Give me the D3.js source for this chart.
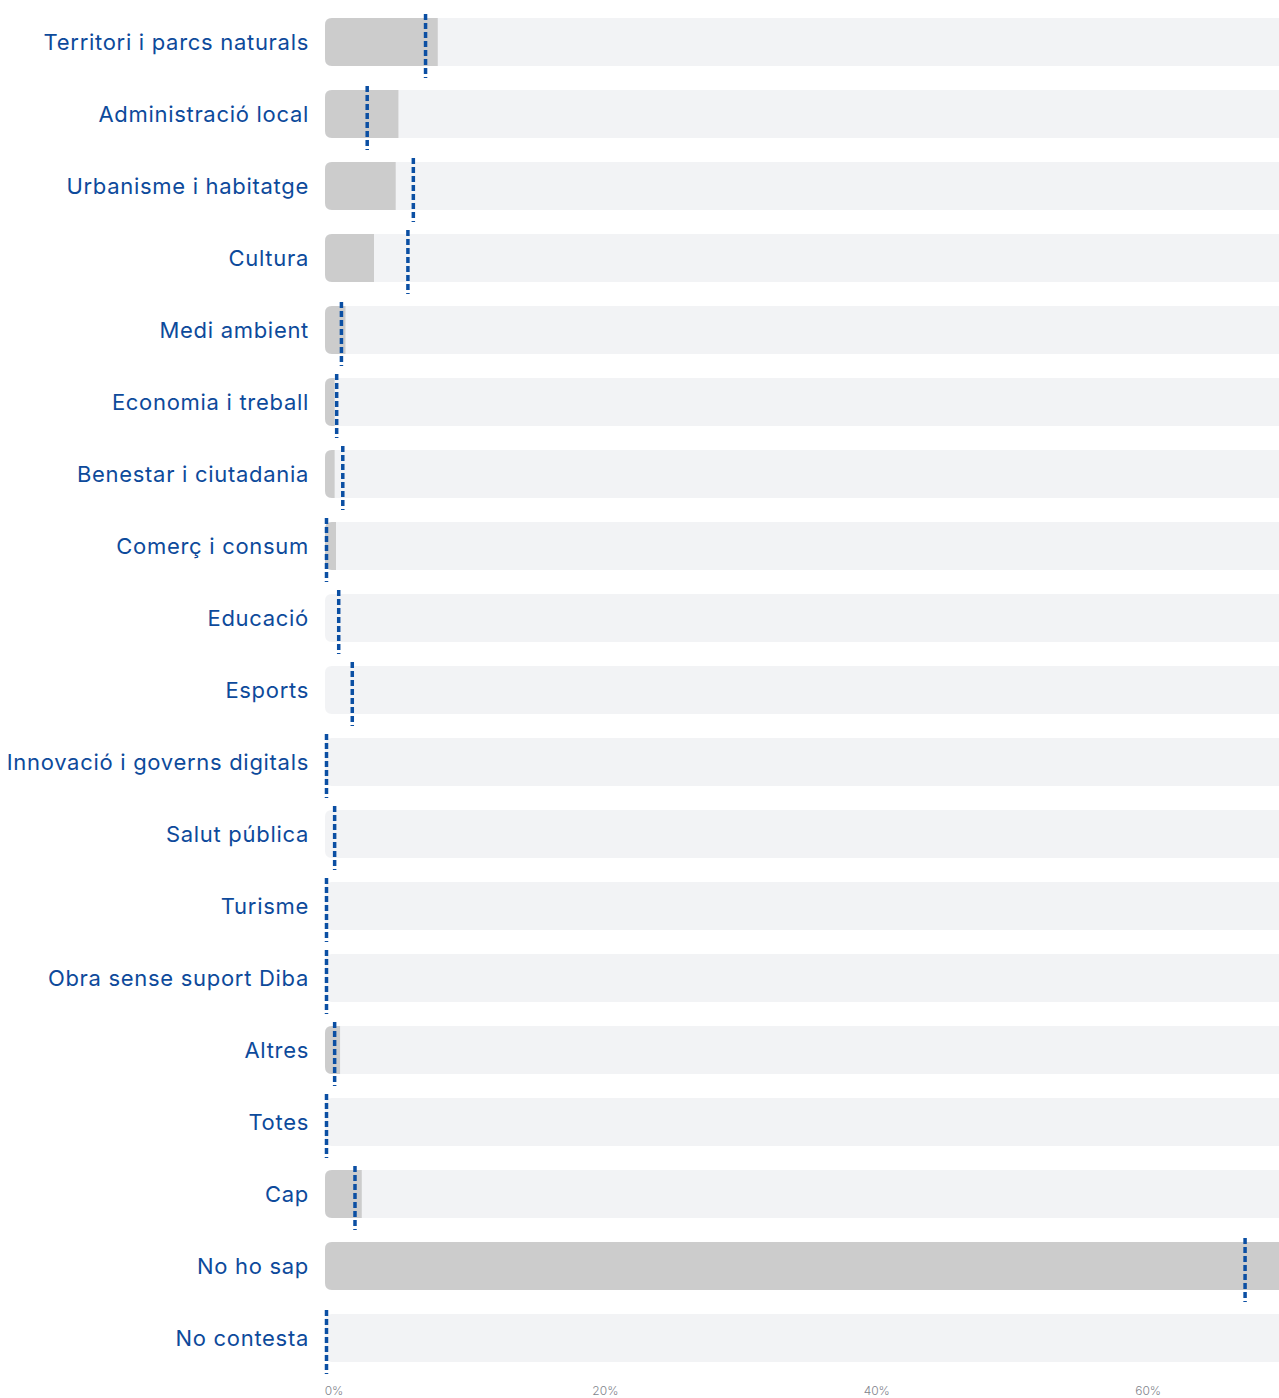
<!DOCTYPE html>
<html>
<head>
<meta charset="utf-8">
<script src="https://cdn.jsdelivr.net/npm/d3@7"></script>
<style>
  html, body { margin: 0; padding: 0; background: #ffffff; }
  svg { display: block; }
</style>
</head>
<body>
<div id="chart"></div>
<script>
const categories = [
  "Territori i parcs naturals",
  "Administració local",
  "Urbanisme i habitatge",
  "Cultura",
  "Medi ambient",
  "Economia i treball",
  "Benestar i ciutadania",
  "Comerç i consum",
  "Educació",
  "Esports",
  "Innovació i governs digitals",
  "Salut pública",
  "Turisme",
  "Obra sense suport Diba",
  "Altres",
  "Totes",
  "Cap",
  "No ho sap",
  "No contesta"
];
// grey bar values (%)
const barValues = [8.2, 5.3, 5.1, 3.5, 1.4, 0.6, 0.6, 0.7, 0, 0, 0, 0, 0, 0, 1.0, 0, 2.6, 71.5, 0];
// dotted reference marker values (%)
const markerValues = [7.3, 3.0, 6.4, 6.0, 1.1, 0.75, 1.2, 0, 0.9, 1.9, 0, 0.6, 0, 0, 0.6, 0, 2.1, 67.7, 0];
const tickValues = [0, 20, 40, 60];

const W = 1279, H = 1398;
const svg = d3.select("#chart").append("svg").attr("width", W).attr("height", H);

const x = d3.scaleLinear().domain([0, 70.2]).range([326.5, 1279]);
const y = d3.scaleBand().domain(categories).range([6, 6 + 72 * 19]).paddingInner(1/3).paddingOuter(1/6);
const bw = y.bandwidth();
const barLeft = 325;
const r = 7;

function leftRounded(x0, y0, w, h, rad) {
  const rr = Math.min(rad, w, h / 2);
  return `M${x0 + w},${y0} L${x0 + rr},${y0} Q${x0},${y0} ${x0},${y0 + rr} L${x0},${y0 + h - rr} Q${x0},${y0 + h} ${x0 + rr},${y0 + h} L${x0 + w},${y0 + h} Z`;
}

// background tracks
svg.append("g").selectAll("path").data(categories).join("path")
  .attr("d", c => leftRounded(barLeft, y(c), W - barLeft + 20, bw, r))
  .attr("fill", "#f2f3f5");

// grey value bars
svg.append("g").selectAll("path").data(categories.map((c, i) => ({c, v: barValues[i]})).filter(d => d.v > 0)).join("path")
  .attr("d", d => leftRounded(barLeft, y(d.c), Math.max(0, x(d.v) - barLeft), bw, r))
  .attr("fill", "#cccccc");

// dotted markers
svg.append("g").selectAll("line").data(categories.map((c, i) => ({c, v: markerValues[i]}))).join("line")
  .attr("x1", d => x(d.v)).attr("x2", d => x(d.v))
  .attr("y1", d => y(d.c) - 4).attr("y2", d => y(d.c) + bw + 12)
  .attr("stroke", "#0b4fa3")
  .attr("stroke-width", 3.5)
  .attr("stroke-dasharray", "6,3");

// category labels
svg.append("g").selectAll("text").data(categories).join("text")
  .attr("x", 309)
  .attr("y", c => y(c) + bw / 2)
  .attr("text-anchor", "end")
  .attr("dominant-baseline", "central")
  .attr("font-family", "Inter, 'Noto Sans', sans-serif")
  .attr("font-size", 22)
  .attr("letter-spacing", 0.7)
  .attr("fill", "#0d4a9b")
  .text(c => c);

// x axis
const axis = d3.axisBottom(x).tickValues(tickValues).tickFormat(d => d + "%").tickSize(0).tickPadding(0);
const gAxis = svg.append("g").attr("transform", "translate(0,1386)").call(axis);
gAxis.select(".domain").remove();
gAxis.selectAll("text")
  .attr("dx", 7)
  .attr("font-family", "Inter, 'Noto Sans', sans-serif")
  .attr("font-size", 12)
  .attr("font-weight", 300)
  .attr("fill", "#7f848c");
</script>
</body>
</html>
